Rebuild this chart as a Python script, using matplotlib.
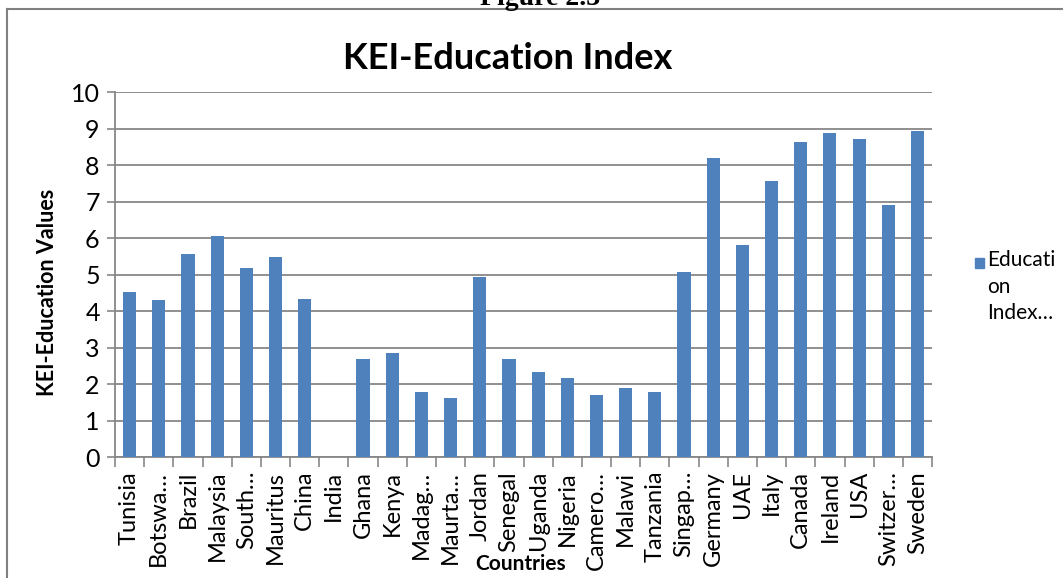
import numpy as np
import matplotlib.pyplot as plt
from matplotlib.lines import Line2D
from matplotlib.patches import Rectangle

# KEI education index per country
countries = ["Tunisia", "Botswa…", "Brazil", "Malaysia", "South…", "Mauritus",
             "China", "India", "Ghana", "Kenya", "Madag…", "Maurta…", "Jordan",
             "Senegal", "Uganda", "Nigeria", "Camero…", "Malawi", "Tanzania",
             "Singap…", "Germany", "UAE", "Italy", "Canada", "Ireland", "USA",
             "Switzer…", "Sweden"]
values = [4.52, 4.31, 5.57, 6.05, 5.18, 5.48,
          4.34, 0.0, 2.68, 2.86, 1.77, 1.63, 4.92,
          2.69, 2.34, 2.17, 1.69, 1.90, 1.77,
          5.06, 8.19, 5.80, 7.57, 8.63, 8.89, 8.72,
          6.90, 8.94]
series_name = "Educati\non\nIndex…"

bar_col = "#4F81BD"
grid_col = "#878787"
font = "Lato"

fig = plt.figure(figsize=(10.63, 5.78), dpi=100)
ax = fig.add_axes([0.1082, 0.2093, 0.7686, 0.6315])

x = np.arange(len(countries))
ax.bar(x, values, width=0.45, color=bar_col, zorder=3)

ax.set_xlim(-0.5, len(countries) - 0.5)
ax.set_ylim(0, 10)
ax.set_yticks(range(0, 11))
ax.yaxis.grid(True, color=grid_col, linewidth=1.3, zorder=0)
ax.tick_params(axis="y", length=6, color=grid_col, width=1.2,
               labelsize=18, pad=5)
for lab in ax.get_yticklabels():
    lab.set_fontfamily(font)

# category labels in the middle, tick marks on the boundaries
ax.set_xticks(x)
ax.set_xticklabels(countries, rotation=90, fontsize=17, family=font)
ax.tick_params(axis="x", length=0, pad=10)
ax.set_xticks(np.arange(-0.5, len(countries)), minor=True)
ax.tick_params(axis="x", which="minor", length=7, color=grid_col, width=1.2)

for s in ["top", "right"]:
    ax.spines[s].set_visible(False)
for s in ["left", "bottom"]:
    ax.spines[s].set_color(grid_col)
    ax.spines[s].set_linewidth(1.3)

fig.text(0.478, 0.898, "KEI-Education Index", fontsize=26, fontweight="bold",
         family=font, ha="center", va="center")
fig.text(0.045, 0.495, "KEI-Education Values", fontsize=15.5, fontweight="bold",
         family=font, rotation=90, ha="center", va="center")
fig.text(0.49, 0.025, "Countries", fontsize=15, fontweight="bold",
         family=font, ha="center", va="center")

# legend drawn by hand
fig.patches.append(Rectangle((0.917, 0.536), 0.0085, 0.017, color=bar_col,
                             transform=fig.transFigure))
fig.text(0.929, 0.567, series_name, fontsize=15, family=font,
         ha="left", va="top", linespacing=1.4)

# page heading, clipped by the top edge
fig.text(0.508, 0.9915, "Figure 2.3", fontsize=20, fontweight="bold",
         family="Liberation Serif", ha="center", va="baseline")

# frame around the chart
fig.lines.append(Line2D([0.0066, 1.0], [0.984, 0.984], color="#808080",
                        linewidth=1.5, transform=fig.transFigure))
fig.lines.append(Line2D([0.0066, 0.0066], [0.0, 0.984], color="#808080",
                        linewidth=1.5, transform=fig.transFigure))

fig.savefig("out.png", dpi=100)
